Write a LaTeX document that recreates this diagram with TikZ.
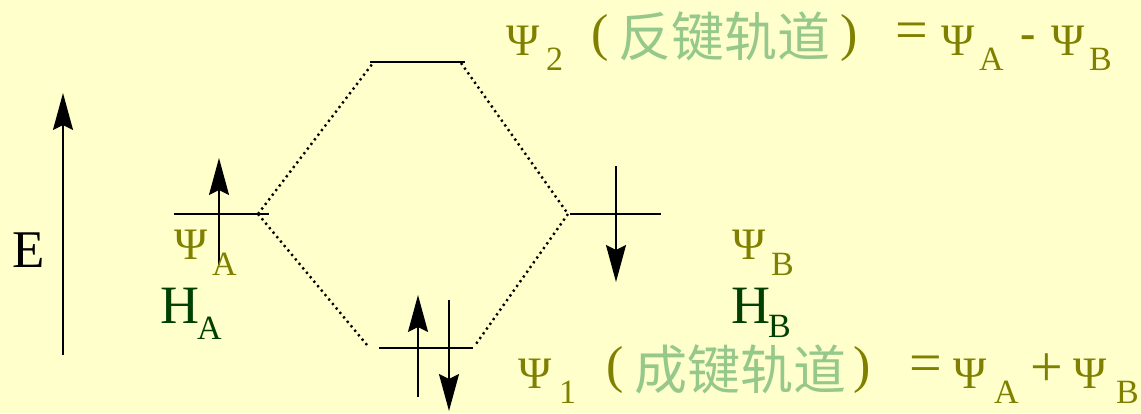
\documentclass[tikz,border=0pt]{standalone}
\usepackage{fontspec}
\setmainfont{Liberation Serif}
\newfontfamily\cjk{Noto Sans CJK SC}
\usetikzlibrary{arrows.meta}
\definecolor{bgyellow}{RGB}{255,255,204}
\definecolor{olivetext}{RGB}{128,128,0}
\definecolor{lightgreen}{RGB}{150,200,140}
\definecolor{darkgreen}{RGB}{0,64,0}
\tikzset{
  level/.style={line width=2pt, black},
  spin/.style={line width=2pt, black, -{Stealth[length=37pt,width=20pt,inset=5pt]}},
  corr/.style={line width=2.4pt, black, dash pattern=on 2.2pt off 3.6pt},
  lbl/.style={inner sep=0pt, anchor=base west},
  psi/.style={lbl, olivetext, font=\fontsize{45}{45}\selectfont},
  sub/.style={lbl, font=\fontsize{34}{34}\selectfont},
  hatom/.style={lbl, darkgreen, font=\fontsize{54}{54}\selectfont},
  zh/.style={inner sep=0pt, anchor=base, lightgreen, text height=0.8em, text depth=0.05em, font=\cjk\fontsize{53}{53}\selectfont},
  paren/.style={inner sep=0pt, anchor=center, olivetext, font=\fontsize{52}{52}\selectfont},
  op/.style={inner sep=0pt, anchor=center, olivetext, font=\fontsize{58}{58}\selectfont}
}
\begin{document}
\begin{tikzpicture}[x=1pt,y=-1pt]
\useasboundingbox (0,0) rectangle (1141,413);
\fill[bgyellow] (0,0) rectangle (1141,413);

% energy axis
\coordinate (E0) at (63,355);
\coordinate (E1) at (63,93);
\draw[spin] (E0) -- (E1);
\node[lbl, font=\fontsize{53}{53}\selectfont] (Elbl) at (12,267) {E};

% levels
\coordinate (LA1) at (174,214);
\coordinate (LA2) at (269,214);
\coordinate (LAc) at (258,214);
\coordinate (T1) at (370,62);
\coordinate (T2) at (465,62);
\coordinate (T1c) at (373,63);
\coordinate (T2c) at (461,63);
\coordinate (R1) at (570,214);
\coordinate (R2) at (661,214);
\coordinate (Rc) at (568,214);
\coordinate (B1) at (379,348);
\coordinate (B2) at (473,348);
\coordinate (B1c) at (367,345);
\coordinate (B2c) at (476,344);

\draw[level] (LA1) -- (LA2);
\draw[level] (T1) -- (T2);
\draw[level] (R1) -- (R2);
\draw[level] (B1) -- (B2);

% correlation lines
\draw[corr] (LAc) -- (T1c);
\draw[corr] (LAc) -- (B1c);
\draw[corr] (T2c) -- (Rc);
\draw[corr] (Rc) -- (B2c);

% electrons
\coordinate (a0) at (219,265);
\coordinate (a1) at (219,158);
\draw[spin] (a0) -- (a1);
\coordinate (b0) at (616,166);
\coordinate (b1) at (616,282);
\draw[spin] (b0) -- (b1);
\coordinate (c0) at (418,397);
\coordinate (c1) at (418,295);
\draw[spin] (c0) -- (c1);
\coordinate (d0) at (449,300);
\coordinate (d1) at (449,411);
\draw[spin] (d0) -- (d1);

% atomic labels
\node[psi] (psiA) at (174,259) {Ψ};
\node[sub, olivetext] (psiAs) at (212,275) {A};
\node[hatom] (HA) at (160,323) {H};
\node[sub, darkgreen] (HAs) at (197,339) {A};
\node[psi] (psiB) at (732,259) {Ψ};
\node[sub, olivetext] (psiBs) at (771,275) {B};
\node[hatom] (HB) at (731,323) {H};
\node[sub, darkgreen] (HBs) at (768,337) {B};

% antibonding label
\node[psi] (p2) at (506,55) {Ψ};
\node[sub, olivetext] (p2s) at (546,70) {2};
\node[paren] (p2l) at (600,38) {(};
\node[zh] (p2t) at (724.5,56) {反键轨道};
\node[paren] (p2r) at (849,38) {)};
\node[op] (p2eq) at (912,36) {=};
\node[psi] (p2a) at (941,55) {Ψ};
\node[sub, olivetext] (p2as) at (979,70) {A};
\node[op, font=\bfseries\fontsize{46}{46}\selectfont] (p2m) at (1028,42) {-};
\node[psi] (p2b) at (1051,55) {Ψ};
\node[sub, olivetext] (p2bs) at (1089,70) {B};

% bonding label
\node[psi] (p1) at (518,388) {Ψ};
\node[sub, olivetext] (p1s) at (559,403) {1};
\node[paren] (p1l) at (615,370) {(};
\node[zh] (p1t) at (740,389) {成键轨道};
\node[paren] (p1r) at (862,370) {)};
\node[op] (p1eq) at (926,369) {=};
\node[psi] (p1a) at (953,388) {Ψ};
\node[sub, olivetext] (p1as) at (994,403) {A};
\node[op] (p1p) at (1047,370) {+};
\node[psi] (p1b) at (1073,388) {Ψ};
\node[sub, olivetext] (p1bs) at (1116,403) {B};
\end{tikzpicture}
\end{document}
